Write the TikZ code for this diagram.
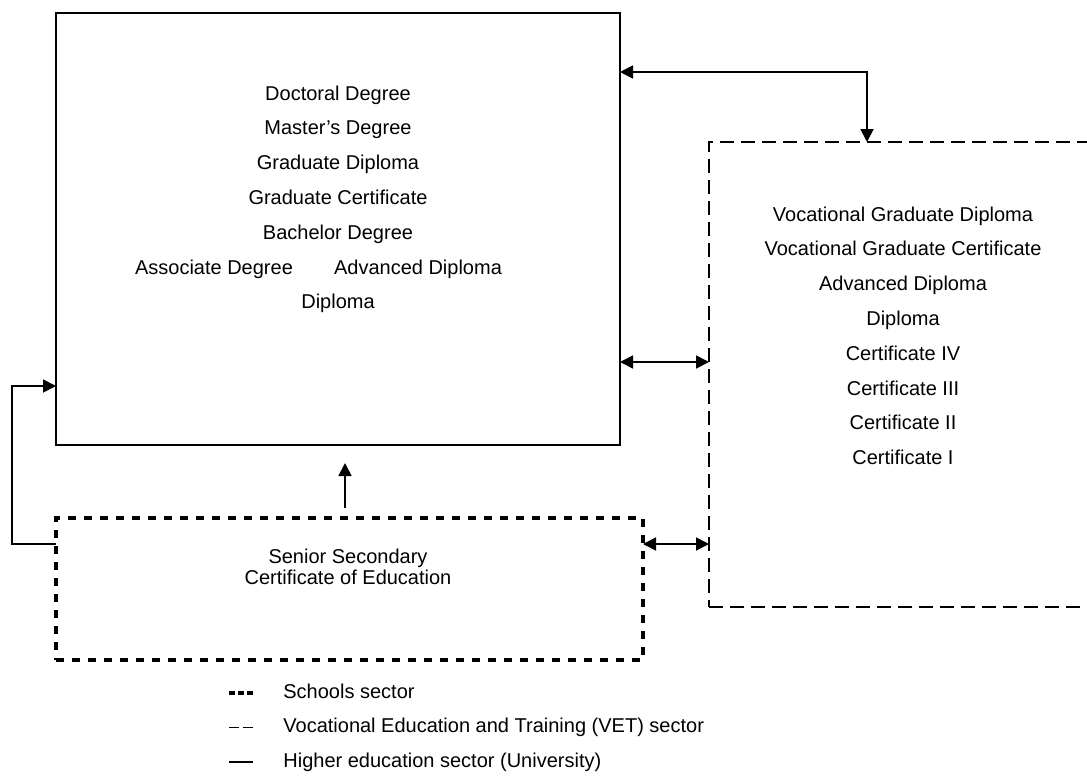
\documentclass[tikz,border=0pt]{standalone}
\usepackage{fontspec}
\setmainfont{Liberation Sans}
\usetikzlibrary{arrows.meta,positioning}

\begin{document}
\begin{tikzpicture}[
    x=0.5pt, y=-0.5pt,
    node distance=7.3pt,
    font=\fontsize{10}{11}\selectfont,
    >={Triangle[length=6.5pt,width=6.5pt]},
    heline/.style={line width=0.9pt},
    vetline/.style={line width=0.7pt, dash pattern=on 7pt off 3.5pt},
    schoolline/.style={line width=1.8pt, dash pattern=on 4.2pt off 3.8pt},
    hebox/.style={rectangle, draw, heline, outer sep=0pt, inner sep=0pt},
    vetbox/.style={rectangle, draw, vetline, outer sep=0pt, inner sep=0pt},
    schoolbox/.style={rectangle, draw, schoolline, outer sep=0pt, inner sep=0pt},
    item/.style={inner sep=0pt, text height=7.5pt, text depth=2.2pt},
    link/.style={<->, heline}
]
\useasboundingbox (0,0) rectangle (1087,776);

% Sector boxes
\node[hebox, minimum width=282pt, minimum height=216pt] (he) at (338,229) {};
\node[vetbox, minimum width=205pt, minimum height=232.5pt] (vet) at (914,374.5) {};
\node[schoolbox, minimum width=293.5pt, minimum height=71pt] (ssce) at (349.5,589) {};
\node[align=center, inner sep=0pt, font=\fontsize{10}{10.5}\selectfont] (sscetext) at (348,567) {Senior Secondary\\Certificate of Education};

% Higher education qualifications
\node[item, anchor=base] (doc) at (338,100) {Doctoral Degree};
\node[item, below=of doc] (mast) {Master's Degree};
\node[item, below=of mast] (gdip) {Graduate Diploma};
\node[item, below=of gdip] (gcert) {Graduate Certificate};
\node[item, below=of gcert] (bach) {Bachelor Degree};
\node[item, below=of bach, xshift=-62pt] (assoc) {Associate Degree};
\node[item, below=of bach, xshift=40pt] (adv) {Advanced Diploma};
\node[item, below=of assoc, xshift=62pt] (hdip) {Diploma};

% VET qualifications
\node[item, anchor=base] (vgdip) at (903,221) {Vocational Graduate Diploma};
\node[item, below=of vgdip] (vgcert) {Vocational Graduate Certificate};
\node[item, below=of vgcert] (vadv) {Advanced Diploma};
\node[item, below=of vadv] (vdip) {Diploma};
\node[item, below=of vdip] (cfour) {Certificate IV};
\node[item, below=of cfour] (cthree) {Certificate III};
\node[item, below=of cthree] (ctwo) {Certificate II};
\node[item, below=of ctwo] (cone) {Certificate I};

% Pathways
\coordinate (toplink) at (867,72);
\coordinate (midlink) at (664,362);
\coordinate (lowlink) at (30,544);
\coordinate (sidelink) at (12,386);
\coordinate (uplink) at (345,508);

\draw[link] (toplink -| he.east) -| (vet.north -| toplink);
\draw[link] (midlink -| he.east) -- (midlink -| vet.west);
\draw[link] (lowlink -| ssce.east) -- (lowlink -| vet.west);
\draw[->, heline] (lowlink -| ssce.west) -| (sidelink) -- (sidelink -| he.west);
\draw[->, heline] (uplink) -- ++(0,-45);

% Legend
\node[item, anchor=base west] (lschool) at (283,698) {Schools sector};
\node[item, below=of lschool.south west, anchor=north west] (lvet) {Vocational Education and Training (VET) sector};
\node[item, below=of lvet.south west, anchor=north west] (lhe) {Higher education sector (University)};

\draw[schoolline, dash pattern=on 2.8pt off 1.8pt] ([xshift=-27pt]lschool.west) -- ++(24,0);
\draw[vetline, line width=0.8pt, dash pattern=on 5pt off 2pt] ([xshift=-27pt]lvet.west) -- ++(24,0);
\draw[heline] ([xshift=-27pt]lhe.west) -- ++(24,0);

\end{tikzpicture}
\end{document}
